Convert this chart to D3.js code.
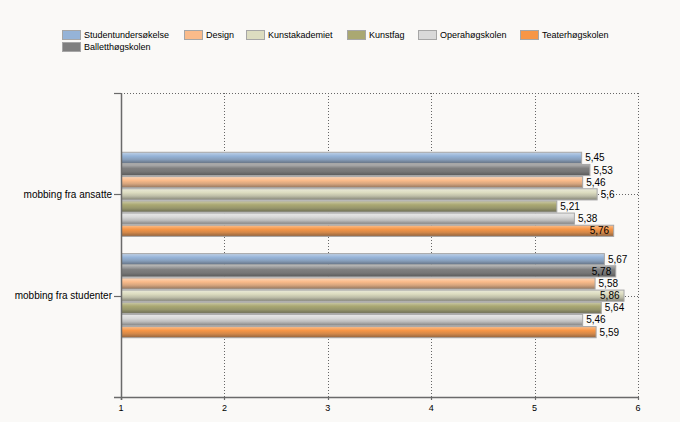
<!DOCTYPE html>
<html><head><meta charset="utf-8">
<script src="https://cdn.jsdelivr.net/npm/d3@7"></script>
<style>
html,body{margin:0;padding:0;background:#faf9f7;}
svg{display:block;font-family:"Liberation Sans",Arial,sans-serif;}
</style></head>
<body><svg id="c" width="680" height="422"></svg>
<script>
const categories = ["mobbing fra ansatte", "mobbing fra studenter"];
const seriesNames = ["Studentundersøkelse","Balletthøgskolen","Design","Kunstakademiet","Kunstfag","Operahøgskolen","Teaterhøgskolen"];
const seriesColors = ["#95b3d7","#7f7f7f","#fabb8a","#dcdcc0","#aaa872","#d9d9d9","#f79646"];
const valuesAnsatte   = [5.45, 5.53, 5.46, 5.6, 5.21, 5.38, 5.76];
const valuesStudenter = [5.67, 5.78, 5.58, 5.86, 5.64, 5.46, 5.59];
const xTicks = [1,2,3,4,5,6];
const legendOrder = ["Studentundersøkelse","Design","Kunstakademiet","Kunstfag","Operahøgskolen","Teaterhøgskolen","Balletthøgskolen"];

const values = [valuesAnsatte, valuesStudenter];
const svg = d3.select("#c");
const L = 121, R = 638, T = 93, B = 397;

const x = d3.scaleLinear().domain([1,6]).range([L, R]);
const step = (B - T) / 3;
const y = d3.scaleBand().domain(categories).range([T + step/2, B - step/2]).paddingInner(0.16).paddingOuter(0.08);
const ys = d3.scaleBand().domain(seriesNames).range([0, y.bandwidth()]);

// gradients
const defs = svg.append("defs");
seriesColors.forEach((c,i)=>{
  const g = defs.append("linearGradient").attr("id","g"+i).attr("x1",0).attr("y1",0).attr("x2",0).attr("y2",1);
  const light = d3.interpolateRgb(c, "#ffffff")(0.4);
  const dark = d3.interpolateRgb(c, "#3a3a3a")(0.55);
  const mid = d3.interpolateRgb(c, "#555555")(0.22);
  g.append("stop").attr("offset","0%").attr("stop-color",light);
  g.append("stop").attr("offset","35%").attr("stop-color",c);
  g.append("stop").attr("offset","65%").attr("stop-color",mid);
  g.append("stop").attr("offset","100%").attr("stop-color",dark);
});

const grid = svg.append("g").attr("stroke","#666").attr("stroke-dasharray","1,2").attr("stroke-width",1);
xTicks.slice(1).forEach(t=>{
  grid.append("line").attr("x1",Math.round(x(t))+0.5).attr("x2",Math.round(x(t))+0.5).attr("y1",T).attr("y2",B);
});
[T, y(categories[0]) + y.bandwidth()/2, y(categories[1]) + y.bandwidth()/2].forEach(v=>{
  grid.append("line").attr("x1",L).attr("x2",R).attr("y1",Math.round(v)+0.5).attr("y2",Math.round(v)+0.5);
});

// bars
const groups = svg.append("g").selectAll("g").data(categories).join("g")
  .attr("transform", d=>`translate(0,${y(d)})`);
groups.each(function(cat, ci){
  const g = d3.select(this);
  seriesNames.forEach((s, si)=>{
    const v = values[ci][si];
    g.append("rect")
      .attr("x", L + 0.5)
      .attr("y", ys(s) + 0.5)
      .attr("width", x(v) - L)
      .attr("height", ys.bandwidth() - 1)
      .attr("fill", `url(#g${si})`)
      .attr("stroke", "#a6a6a6")
      .attr("stroke-width", 1);
  });
});
// labels
groups.each(function(cat, ci){
  const g = d3.select(this);
  seriesNames.forEach((s, si)=>{
    const v = values[ci][si];
    const ex = x(v);
    const inside = ex + 26 > 635;
    g.append("text")
      .attr("x", inside ? ex - 4 : ex + 4)
      .attr("y", ys(s) + ys.bandwidth()/2)
      .attr("dy","0.35em")
      .attr("text-anchor", inside ? "end" : "start")
      .attr("font-size", 10)
      .attr("fill", "#000")
      .text(String(v).replace(".", ","));
  });
});

// axes
const axisColor = "#6a6a6a";
svg.append("line").attr("x1",L+0.5).attr("x2",L+0.5).attr("y1",T).attr("y2",B+3).attr("stroke",axisColor).attr("stroke-width",1.5);
[T, y(categories[0]) + y.bandwidth()/2, y(categories[1]) + y.bandwidth()/2].forEach(v=>{
  svg.append("line").attr("x1",L-7).attr("x2",L).attr("y1",Math.round(v)+0.5).attr("y2",Math.round(v)+0.5).attr("stroke",axisColor).attr("stroke-width",1.2);
});
categories.forEach(c=>{
  svg.append("text").attr("x", L-9).attr("y", y(c)+y.bandwidth()/2).attr("dy","0.35em")
    .attr("text-anchor","end").attr("font-size",10).attr("fill","#000").text(c);
});
svg.append("line").attr("x1",L-7).attr("x2",R).attr("y1",B+0.5).attr("y2",B+0.5).attr("stroke",axisColor).attr("stroke-width",1.5);
xTicks.forEach(t=>{
  svg.append("line").attr("x1",Math.round(x(t))+0.5).attr("x2",Math.round(x(t))+0.5).attr("y1",B).attr("y2",B+3).attr("stroke",axisColor).attr("stroke-width",1.2);
  svg.append("text").attr("x",x(t)).attr("y",B+14).attr("text-anchor","middle").attr("font-size",9).attr("fill","#000").text(t);
});
svg.append("line").attr("x1",R+0.5).attr("x2",R+0.5).attr("y1",T).attr("y2",B).attr("stroke","#666").attr("stroke-dasharray","1,2");

// legend
const legendX = [62,184,246,347,418,520,62];
const legendY = [30,30,30,30,30,30,42];
const lg = svg.append("g");
legendOrder.forEach((name,i)=>{
  const si = seriesNames.indexOf(name);
  const item = lg.append("g").attr("transform",`translate(${legendX[i]},${legendY[i]})`);
  item.append("rect").attr("x",0.5).attr("y",0.5).attr("width",18).attr("height",9)
    .attr("fill",seriesColors[si]).attr("stroke","#a6a6a6");
  item.append("text").attr("x",22).attr("y",5).attr("dy","0.35em").attr("font-size",9).attr("fill","#000").text(name);
});
</script></body></html>
